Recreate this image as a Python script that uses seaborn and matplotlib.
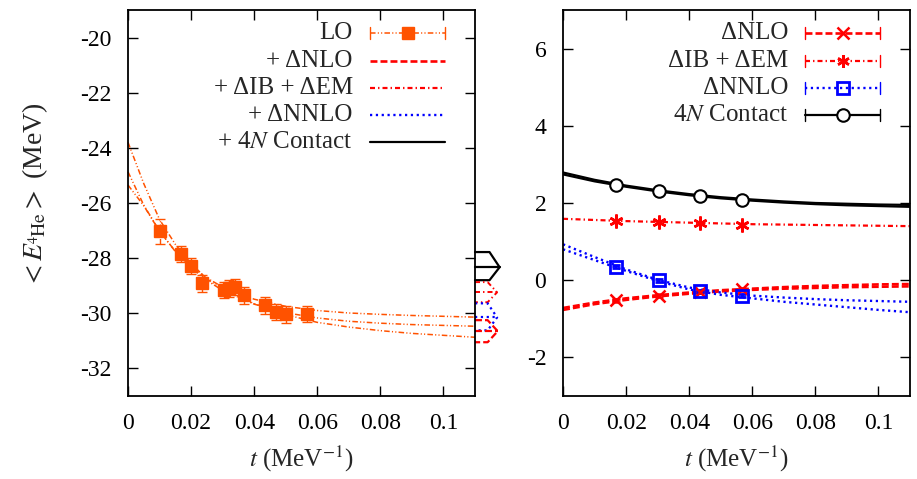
import numpy as np
import pandas as pd
import matplotlib
matplotlib.use('Agg')
import matplotlib.pyplot as plt
import seaborn as sns

# ---- left panel: LO energies and fits ----
t_grid = [0, 0.005, 0.01, 0.015, 0.02, 0.025, 0.03, 0.04, 0.05, 0.06, 0.07, 0.08, 0.09, 0.1, 0.11]
lo_fit_a = [-25.35, -26.10, -27.03, -27.75, -28.30, -28.72, -29.05, -29.49, -29.75, -29.90, -29.99, -30.04, -30.08, -30.11, -30.14]
lo_fit_b = [-24.87, -26.08, -27.02, -27.76, -28.35, -28.81, -29.17, -29.67, -29.98, -30.17, -30.29, -30.36, -30.41, -30.44, -30.47]
lo_fit_c = [-23.80, -25.30, -26.60, -27.50, -28.20, -28.75, -29.15, -29.65, -30.05, -30.33, -30.50, -30.63, -30.73, -30.80, -30.87]

lo_t = [0.0101, 0.0167, 0.0199, 0.0235, 0.0305, 0.0320, 0.0338, 0.0367, 0.0433, 0.0468, 0.0500, 0.0567]
lo_e = [-27.02, -27.85, -28.29, -28.92, -29.15, -29.10, -29.05, -29.35, -29.71, -29.96, -30.04, -30.03]
lo_err = [0.45, 0.30, 0.30, 0.30, 0.30, 0.30, 0.30, 0.30, 0.30, 0.30, 0.30, 0.30]

# arrows: extrapolated cumulative results (top, centre, bottom)
arrow_top = [-27.78, -28.87, -29.64, -30.25]
arrow_mid = [-28.33, -29.24, -30.15, -30.65]
arrow_bot = [-28.80, -29.60, -30.62, -31.05]

# ---- right panel: corrections ----
pt_t = [0.0167, 0.0305, 0.0433, 0.0567]
nlo_pts = [-0.52, -0.40, -0.30, -0.23]
ibem_pts = [1.53, 1.50, 1.47, 1.44]
nnlo_pts = [0.35, 0.00, -0.29, -0.40]
contact_pts = [2.46, 2.30, 2.18, 2.07]
pt_err = [0.04, 0.04, 0.04, 0.04]

r_grid = [0, 0.01, 0.02, 0.03, 0.04, 0.05, 0.06, 0.07, 0.08, 0.09, 0.1, 0.11]
contact_fit_a = [2.79, 2.60, 2.45, 2.33, 2.23, 2.15, 2.09, 2.04, 2.00, 1.98, 1.96, 1.95]
contact_fit_b = [2.74, 2.56, 2.42, 2.30, 2.20, 2.12, 2.06, 2.01, 1.97, 1.94, 1.92, 1.90]
ibem_fit = [1.59, 1.56, 1.53, 1.51, 1.49, 1.47, 1.45, 1.44, 1.43, 1.42, 1.41, 1.40]
nlo_fit_a = [-0.72, -0.58, -0.47, -0.39, -0.32, -0.26, -0.22, -0.18, -0.15, -0.13, -0.11, -0.10]
nlo_fit_b = [-0.77, -0.62, -0.51, -0.42, -0.35, -0.29, -0.25, -0.22, -0.20, -0.18, -0.17, -0.16]
nnlo_fit_a = [0.93, 0.60, 0.28, 0.01, -0.19, -0.32, -0.40, -0.45, -0.49, -0.52, -0.54, -0.56]
nnlo_fit_b = [0.80, 0.52, 0.24, -0.02, -0.24, -0.38, -0.47, -0.56, -0.63, -0.70, -0.77, -0.83]

x_ticks = [0, 0.02, 0.04, 0.06, 0.08, 0.1]
left_yticks = [-32, -30, -28, -26, -24, -22, -20]
right_yticks = [-2, 0, 2, 4, 6]

sns.set_theme(style='ticks')
plt.rcParams['font.family'] = ['Liberation Serif', 'DejaVu Serif']
plt.rcParams['mathtext.fontset'] = 'stix'
plt.rcParams['axes.unicode_minus'] = False
plt.rcParams['lines.scale_dashes'] = False

ORANGE = '#ff5200'
RED = '#ff0000'
BLUE = '#0000ff'
LS_LO = (0, (4, 1.6, 0.8, 1.6, 0.8, 1.6))
LS_NLO = (0, (5, 2.2))
LS_IB = (0, (3.6, 2.2, 1.0, 2.2))
LS_NNLO = (0, (1.6, 2.6))
FS = 17
FS_LEG = 18

fig = plt.figure(figsize=(9.17, 4.79), dpi=100)
axL = fig.add_axes([0.1396, 0.1733, 0.3784, 0.8059])
axR = fig.add_axes([0.6140, 0.1733, 0.3784, 0.8059])

# left: fit curves
for fit in (lo_fit_a, lo_fit_b, lo_fit_c):
    sns.lineplot(x=t_grid, y=fit, ax=axL, color=ORANGE, linestyle=LS_LO, lw=1.1,
                 errorbar=None, clip_on=False)
eb = axL.errorbar(lo_t, lo_e, yerr=lo_err, fmt='s', color=ORANGE, ms=8,
                  capsize=3.5, elinewidth=1.0, capthick=1.0, zorder=3)
eb[2][0].set_linestyle(LS_LO)

# arrows next to the left panel
arrow_styles = [('black', '-', 1.6, 0.1146, 0.1178),
                (RED, LS_IB, 1.4, 0.1140, 0.1170),
                (BLUE, LS_NNLO, 1.6, 0.1140, 0.1170),
                (RED, LS_NLO, 1.6, 0.1140, 0.1172)]
for top, mid, bot, (c, ls, lw, x1, x2) in zip(arrow_top, arrow_mid, arrow_bot, arrow_styles):
    axL.plot([0.11, x1, x2, x1, 0.11], [top, top, mid, bot, bot], color=c, ls=ls, lw=lw, clip_on=False)
    axL.plot([0.11, x2], [mid, mid], color=c, ls=ls, lw=lw, clip_on=False)

# right: fit curves
for fit in (contact_fit_a, contact_fit_b):
    sns.lineplot(x=r_grid, y=fit, ax=axR, color='black', lw=1.6, errorbar=None)
sns.lineplot(x=r_grid, y=ibem_fit, ax=axR, color=RED, linestyle=LS_IB, lw=1.6, errorbar=None)
for fit in (nlo_fit_a, nlo_fit_b):
    sns.lineplot(x=r_grid, y=fit, ax=axR, color=RED, linestyle=LS_NLO, lw=1.9, errorbar=None)
for fit in (nnlo_fit_a, nnlo_fit_b):
    sns.lineplot(x=r_grid, y=fit, ax=axR, color=BLUE, linestyle=LS_NNLO, lw=1.7, errorbar=None)

axR.errorbar(pt_t, contact_pts, yerr=pt_err, fmt='o', mfc='white', mec='black', ecolor='black',
             ms=9, mew=1.5, capsize=3, zorder=4)
axR.errorbar(pt_t, ibem_pts, yerr=pt_err, fmt='none', ecolor=RED, capsize=3, zorder=4)
axR.plot(pt_t, ibem_pts, ls='none', marker=(6, 2, 0), ms=10, mec=RED, mew=1.8, zorder=4)
axR.errorbar(pt_t, nlo_pts, yerr=pt_err, fmt='x', color=RED, ms=9, mew=1.8, capsize=3, zorder=4)
axR.errorbar(pt_t, nnlo_pts, yerr=pt_err, fmt='s', mfc='none', mec=BLUE, ecolor=BLUE,
             ms=9, mew=2.0, capsize=3, zorder=4)

# axes formatting
for ax, yt, ylim in ((axL, left_yticks, (-33, -19)), (axR, right_yticks, (-3, 7))):
    ax.set_xlim(0, 0.11)
    ax.set_ylim(*ylim)
    ax.set_xticks(x_ticks)
    ax.set_xticklabels([f"{v:g}" for v in x_ticks])
    ax.set_yticks(yt)
    ax.set_yticklabels([f"{v:g}" for v in yt])
    ax.tick_params(direction='in', top=True, right=True, length=7, width=1.0,
                   labelsize=FS, pad=12, colors='black')
    for s in ax.spines.values():
        s.set_linewidth(1.3)
        s.set_color('black')
    ax.set_xlabel(r'$t$ (MeV$^{-1}$)', fontsize=FS + 1)
    ax.xaxis.set_label_coords(0.5, -0.125)
    ax.set_ylabel('')

axL.set_ylabel(r'$<E_{{}^{4}\mathrm{He}}>$ (MeV)', fontsize=20)
axL.yaxis.set_label_coords(-0.224, 0.52)


def legend_rows(ax, rows):
    ys = [0.940, 0.868, 0.798, 0.728, 0.658]
    for y, (label, c, ls, lw, mk) in zip(ys, rows):
        ax.text(0.648, y, label, transform=ax.transAxes, ha='right', va='center', fontsize=FS_LEG)
        ax.plot([0.697, 0.914], [y, y], transform=ax.transAxes, color=c, ls=ls, lw=lw, clip_on=False)
        if mk is not None:
            m, mfc, mew = mk
            ax.plot([0.8055], [y], transform=ax.transAxes, ls='none', marker=m, ms=9,
                    mfc=mfc, mec=c, mew=mew, clip_on=False)
            for xc in (0.697, 0.914):
                ax.plot([xc, xc], [y - 0.015, y + 0.015], transform=ax.transAxes,
                        color=c, lw=1.0, clip_on=False)


legend_rows(axL, [('LO', ORANGE, LS_LO, 1.1, ('s', ORANGE, 1.0)),
                  ('+ ΔNLO', RED, LS_NLO, 1.9, None),
                  ('+ ΔIB + ΔEM', RED, LS_IB, 1.6, None),
                  ('+ ΔNNLO', BLUE, LS_NNLO, 1.7, None),
                  ('+ 4$N$ Contact', 'black', '-', 1.6, None)])
legend_rows(axR, [('ΔNLO', RED, LS_NLO, 1.9, ('x', RED, 1.8)),
                  ('ΔIB + ΔEM', RED, LS_IB, 1.6, ((6, 2, 0), RED, 1.8)),
                  ('ΔNNLO', BLUE, LS_NNLO, 1.7, ('s', 'none', 2.0)),
                  ('4$N$ Contact', 'black', '-', 1.6, ('o', 'white', 1.5))])

fig.savefig('out.png', dpi=100)
